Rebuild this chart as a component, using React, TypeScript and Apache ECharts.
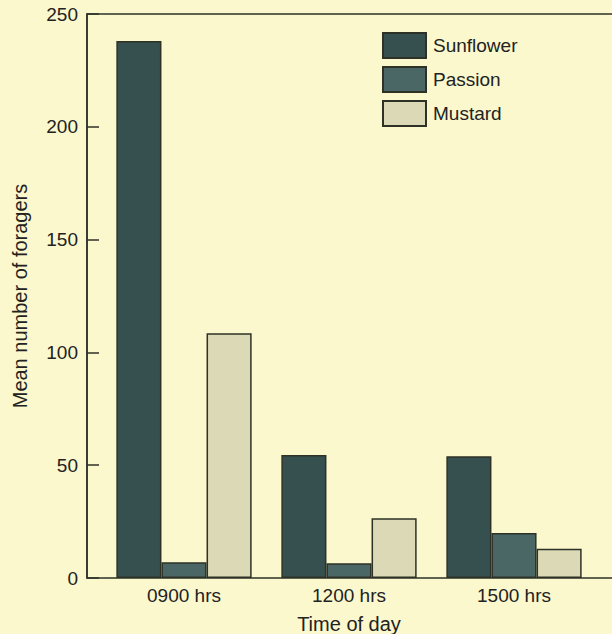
import React, { useEffect, useRef } from "react";
import * as echarts from "echarts";

const categories = ["0900 hrs", "1200 hrs", "1500 hrs"];
const sunflower = [238, 54.5, 54];
const passion = [7, 6.5, 20];
const mustard = [108.5, 26.5, 13];
const seriesNames = ["Sunflower", "Passion", "Mustard"];

export default function App() {
  const ref = useRef<HTMLDivElement>(null);
  useEffect(() => {
    if (!ref.current) return;
    const chart = echarts.init(ref.current, undefined, { renderer: "svg" });
    const font = "'Liberation Sans', Arial, sans-serif";
    const border = "#2e3226";
    const txt = "#222222";
    const mk = (name: string, data: number[], color: string) => ({
      name,
      type: "bar",
      xAxisIndex: 1,
      yAxisIndex: 1,
      data,
      barGap: "0%",
      barCategoryGap: "18%",
      itemStyle: { color, borderColor: border, borderWidth: 1.5 },
    });
    chart.setOption({
      animation: false,
      backgroundColor: "#fbf8cd",
      textStyle: { fontFamily: font },
      legend: {
        orient: "vertical",
        left: 382,
        top: 32,
        padding: 0,
        icon: "rect",
        itemWidth: 43,
        itemHeight: 25,
        itemGap: 7,
        data: seriesNames,
        textStyle: { fontSize: 19, color: txt, fontFamily: font, padding: [0, 0, 0, 2] },
      },
      grid: [
        {
          left: 87, top: 14, right: -10, bottom: 56,
          show: true, borderColor: border, borderWidth: 1.5,
          outerBoundsMode: "none", containLabel: false,
        },
        {
          left: 101.5, top: 14, width: 495, bottom: 56,
          outerBoundsMode: "none", containLabel: false,
        },
      ],
      xAxis: [
        { type: "category", gridIndex: 0, data: categories, show: false },
        {
          type: "category",
          gridIndex: 1,
          data: categories,
          axisLine: { show: false },
          axisTick: { show: false },
          axisLabel: { fontSize: 19, color: txt, margin: 8, fontFamily: font },
          name: "Time of day",
          nameLocation: "middle",
          nameGap: 36,
          nameTextStyle: { fontSize: 20, color: txt, fontFamily: font },
        },
      ],
      yAxis: [
        {
          type: "value",
          gridIndex: 0,
          min: 0,
          max: 250,
          interval: 50,
          axisLine: { show: true, lineStyle: { color: border, width: 1.5 } },
          axisTick: {
            show: true,
            inside: true,
            length: 12,
            lineStyle: { color: border, width: 1.5 },
          },
          splitLine: { show: false },
          axisLabel: { fontSize: 19, color: txt, margin: 9, fontFamily: font },
          name: "Mean number of foragers",
          nameLocation: "middle",
          nameGap: 57,
          nameTextStyle: { fontSize: 20, color: txt, fontFamily: font },
        },
        { type: "value", gridIndex: 1, min: 0, max: 250, show: false },
      ],
      series: [
        mk(seriesNames[0], sunflower, "#35504e"),
        mk(seriesNames[1], passion, "#4a6766"),
        mk(seriesNames[2], mustard, "#dcd9b6"),
      ],
    });
    return () => chart.dispose();
  }, []);
  return (
    <div
      ref={ref}
      style={{ position: "fixed", left: 0, top: 0, width: 612, height: 634 }}
    />
  );
}
